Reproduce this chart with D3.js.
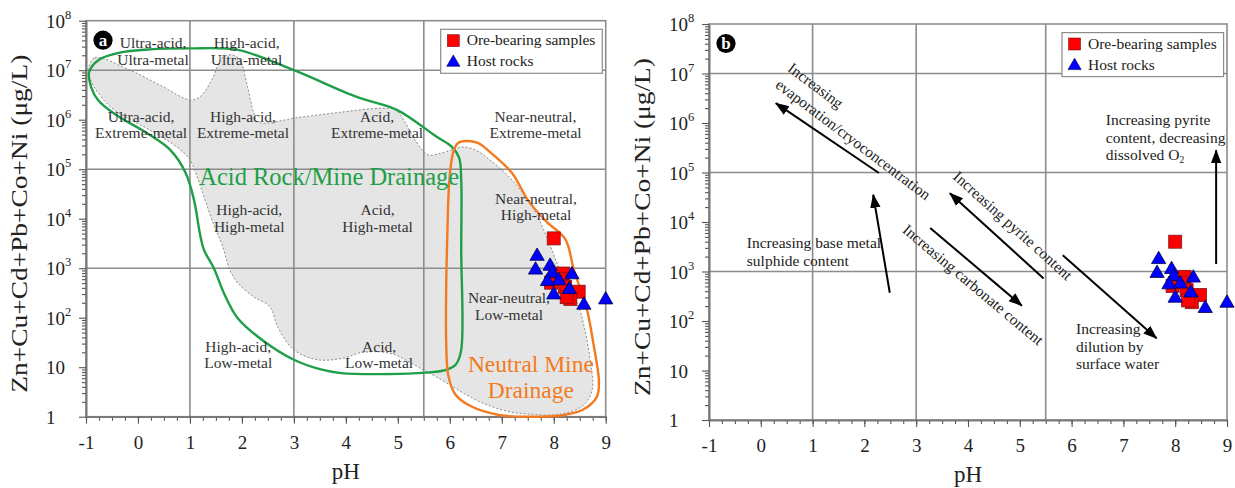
<!DOCTYPE html>
<html>
<head>
<meta charset="utf-8">
<script src="https://cdn.jsdelivr.net/npm/d3@7"></script>
<style>
  html, body { margin: 0; padding: 0; background: #fff; }
  svg { display: block; }
  text { font-family: "Liberation Serif", "Times New Roman", Times, serif; }
</style>
</head>
<body>
<svg id="chart" width="1235" height="488"></svg>
<script>
// ---- data -------------------------------------------------------------
// pH tick labels and minor tick steps
const pHTicks = d3.range(-1, 10);
const pHMinor = d3.range(-1, 9.001, 0.25);
// decade exponents of the metal axis (µg/L)
const decadeExponents = d3.range(0, 9);
// Ficklin class boundaries
const pHBounds = [1, 3, 5.5];
const metalBounds = [1e3, 1e5, 1e7];

// samples: [pH, Zn+Cu+Cd+Pb+Co+Ni in µg/L]
const oreSamples = [
  [8.00, 4000], [8.18, 780], [8.12, 600], [7.95, 510],
  [8.22, 420], [8.48, 335], [8.32, 240], [8.25, 260]
];
const hostRocks = [
  [7.68, 1750], [7.65, 920], [7.93, 1100], [7.97, 790], [8.35, 740],
  [7.88, 540], [8.10, 560], [8.30, 370], [8.00, 290], [8.58, 180], [9.00, 230]
];

// field outlines as [pH, log10(metal)]
const naturalWaterField = [
  [-0.96,7.00],[-0.83,7.25],[-0.15,7.00],[0.42,6.70],[1.00,6.40],[1.19,6.46],
  [1.42,6.80],[1.62,7.25],[1.81,7.31],[1.96,7.21],[2.10,6.70],[2.23,6.13],
  [2.31,5.95],[3.12,6.05],[3.89,6.15],[4.66,6.23],[4.95,6.20],[5.14,5.95],
  [5.33,5.59],[5.58,5.29],[5.81,5.32],[6.04,5.39],[6.24,5.45],[6.49,5.39],
  [6.77,5.19],[7.20,4.78],[7.62,4.18],[7.89,3.57],[8.12,2.96],[8.47,2.25],
  [8.60,1.75],[8.70,1.15],[8.74,0.54],[8.56,0.22],[8.12,0.05],[7.54,0.05],
  [7.06,0.12],[6.50,0.34],[5.75,0.80],[5.43,0.98],[5.14,1.15],[4.95,1.25],
  [4.66,1.31],[4.27,1.29],[3.98,1.19],[3.46,1.15],[3.00,1.35],[2.69,1.81],
  [2.54,2.22],[2.23,2.42],[1.92,2.70],[1.77,2.96],[1.62,3.47],[1.46,3.87],
  [1.29,4.38],[1.16,4.78],[1.00,5.19],[0.77,5.43],[0.23,5.79],[-0.50,6.23],
  [-0.83,6.64],[-0.94,6.88]
];
const acidDrainageField = [
  [-0.94,6.96],[-0.75,7.21],[-0.37,7.35],[0.23,7.42],[1.00,7.44],[1.92,7.41],
  [3.00,7.00],[4.21,6.46],[4.98,6.20],[5.74,5.66],[6.04,5.45],[6.18,5.23],
  [6.22,4.78],[6.22,3.37],[6.22,1.35],[6.12,1.06],[5.91,0.94],[5.37,0.88],
  [3.91,0.88],[3.50,0.96],[3.00,1.15],[2.39,1.55],[1.92,1.99],[1.67,2.46],
  [1.46,3.00],[1.27,3.37],[1.19,3.71],[1.08,4.37],[0.92,4.92],[0.62,5.39],
  [0.14,5.75],[-0.44,6.11],[-0.77,6.40],[-0.90,6.66]
];
const neutralDrainageField = [
  [6.08,5.39],[6.16,5.53],[6.31,5.57],[6.54,5.53],[6.77,5.35],[7.20,4.92],
  [7.50,4.38],[7.85,3.95],[8.22,3.59],[8.39,2.96],[8.64,2.16],[8.76,1.50],
  [8.84,1.00],[8.87,0.70],[8.83,0.40],[8.56,0.14],[8.18,0.03],[7.66,0.00],
  [6.97,0.03],[6.39,0.22],[6.10,0.46],[5.97,0.84],[5.93,1.55],[5.93,2.56],
  [5.95,3.57],[5.98,4.58],[6.02,5.08]
];

// class names: [lines, pH, log10(metal) of first baseline]
const classLabels = [
  [["Ultra-acid,", "Ultra-metal"], 0.29, 7.44],
  [["High-acid,", "Ultra-metal"], 2.09, 7.44],
  [["Ultra-acid,", "Extreme-metal"], 0.06, 5.96],
  [["High-acid,", "Extreme-metal"], 2.02, 5.96],
  [["Acid,", "Extreme-metal"], 4.60, 5.96],
  [["Near-neutral,", "Extreme-metal"], 7.65, 5.96],
  [["High-acid,", "High-metal"], 2.14, 4.07],
  [["Acid,", "High-metal"], 4.61, 4.07],
  [["Near-neutral,", "High-metal"], 7.66, 4.30],
  [["Near-neutral,", "Low-metal"], 7.14, 2.29],
  [["High-acid,", "Low-metal"], 1.93, 1.31],
  [["Acid,", "Low-metal"], 4.64, 1.31]
];

// process arrows: [pH from, log from, pH to, log to]
const processArrows = [
  [2.28, 4.99, 0.29, 6.40],
  [2.49, 2.57, 2.17, 4.55],
  [3.27, 3.88, 5.04, 2.31],
  [5.46, 2.86, 3.65, 4.58],
  [5.83, 3.33, 7.64, 1.65],
  [8.79, 3.15, 8.79, 5.45]
];
// slanted process notes: [lines, pH, log10 of first line start, angle]
const slantedNotes = [
  [["Increasing", "evaporation/cryoconcentration"], 0.57, 7.16, 37],
  [["Increasing carbonate content"], 2.79, 3.90, 40],
  [["Increasing pyrite content"], 3.77, 4.98, 42]
];
// level notes: [lines, pH, log10 of first baseline]
const levelNotes = [
  [["Increasing base metal", "sulphide content"], -0.27, 3.47],
  [["Increasing", "dilution by", "surface water"], 6.085, 1.73],
  [["Increasing pyrite", "content, decreasing", "dissolved O"], 6.66, 5.95]
];

const legendItems = ["Ore-bearing samples", "Host rocks"];

// ---- layout -------------------------------------------------------------
const panels = [
  { letter: "a", left: 86, right: 605.7, top: 20.7, bottom: 416.7, fields: true },
  { letter: "b", left: 709, right: 1227, top: 24, bottom: 420, fields: false }
];

const svg = d3.select("#chart");
const defs = svg.append("defs");
defs.append("marker")
  .attr("id", "head")
  .attr("markerUnits", "userSpaceOnUse")
  .attr("viewBox", "0 -6 14 12")
  .attr("refX", 13).attr("refY", 0)
  .attr("markerWidth", 14).attr("markerHeight", 12)
  .attr("orient", "auto")
  .append("path").attr("d", "M0,-5.2L14,0L0,5.2Z").attr("fill", "#000");

const GRID = "#8c8c8c";

panels.forEach(p => {
  const g = svg.append("g");
  const x = d3.scaleLinear().domain([-1, 9]).range([p.left, p.right]);
  const y = d3.scaleLog().domain([1, 1e8]).range([p.bottom, p.top]);
  const ly = e => y(Math.pow(10, e));
  const outline = d3.line().x(d => x(d[0])).y(d => ly(d[1]))
    .curve(d3.curveCatmullRomClosed.alpha(0.5));

  if (p.fields) {
    g.append("path").attr("d", outline(naturalWaterField))
      .attr("fill", "#e5e5e5").attr("stroke", "none");
  }

  // class boundaries
  g.selectAll(".vb").data(pHBounds).join("line")
    .attr("x1", d => x(d)).attr("x2", d => x(d))
    .attr("y1", p.top).attr("y2", p.bottom)
    .attr("stroke", GRID).attr("stroke-width", 1.6);
  g.selectAll(".hb").data(metalBounds).join("line")
    .attr("x1", p.left).attr("x2", p.right)
    .attr("y1", d => y(d)).attr("y2", d => y(d))
    .attr("stroke", GRID).attr("stroke-width", 1.6);

  g.append("rect")
    .attr("x", p.left).attr("y", p.top)
    .attr("width", p.right - p.left).attr("height", p.bottom - p.top)
    .attr("fill", "none").attr("stroke", GRID).attr("stroke-width", 1.6);

  // axes
  const styleAxis = sel => {
    sel.select(".domain").attr("stroke", "#777").attr("stroke-width", 1.6);
    sel.selectAll(".tick line").attr("stroke", "#555").attr("stroke-width", 1.1);
  };
  g.append("g").attr("transform", `translate(0,${p.bottom})`)
    .call(d3.axisBottom(x).tickValues(pHMinor).tickSize(4).tickSizeOuter(0).tickFormat(""))
    .call(styleAxis);
  const xa = g.append("g").attr("transform", `translate(0,${p.bottom})`)
    .call(d3.axisBottom(x).tickValues(pHTicks).tickSize(7).tickPadding(11.5)
      .tickSizeOuter(0).tickFormat(d => String(d)))
    .call(styleAxis);
  xa.selectAll(".tick text")
    .attr("font-size", 19).attr("fill", "#222")
    .attr("font-family", "'Liberation Serif', 'Times New Roman', serif");

  const minorMetal = [];
  decadeExponents.slice(0, -1).forEach(e => {
    for (let k = 2; k <= 9; k++) minorMetal.push(k * Math.pow(10, e));
  });
  g.append("g").attr("transform", `translate(${p.left},0)`)
    .call(d3.axisLeft(y).tickValues(minorMetal).tickSize(4).tickSizeOuter(0).tickFormat(""))
    .call(styleAxis);
  g.append("g").attr("transform", `translate(${p.left},0)`)
    .call(d3.axisLeft(y).tickValues(decadeExponents.map(e => Math.pow(10, e)))
      .tickSize(7).tickSizeOuter(0).tickFormat(""))
    .call(styleAxis);

  const yl = g.selectAll(".ylab").data(decadeExponents).join("text")
    .attr("x", p.left - 40).attr("y", e => ly(e) + 7)
    .attr("font-size", 19).attr("fill", "#222");
  yl.each(function (e) {
    const t = d3.select(this);
    if (e === 0) { t.text("1"); return; }
    t.append("tspan").text("10");
    if (e > 1) t.append("tspan").attr("font-size", 12.5).attr("dy", -9).text(e);
  });

  // axis titles
  g.append("text")
    .attr("x", (p.left + p.right) / 2).attr("y", p.bottom + 62)
    .attr("text-anchor", "middle").attr("font-size", 23).attr("fill", "#222")
    .text("pH");
  g.append("text")
    .attr("transform", `translate(${p.left - 59},${(p.top + p.bottom) / 2 + 5}) rotate(-90)`)
    .attr("text-anchor", "middle").attr("font-size", 24).attr("fill", "#222")
    .attr("textLength", 338).attr("lengthAdjust", "spacingAndGlyphs")
    .text("Zn+Cu+Cd+Pb+Co+Ni (μg/L)");

  if (p.fields) {
    g.append("path").attr("d", outline(naturalWaterField))
      .attr("fill", "none").attr("stroke", "#8a8a8a")
      .attr("stroke-width", 1).attr("stroke-dasharray", "2,2");
    g.append("path").attr("d", outline(acidDrainageField))
      .attr("fill", "none").attr("stroke", "#1f9e48").attr("stroke-width", 2.4);
    g.append("path").attr("d", outline(neutralDrainageField))
      .attr("fill", "none").attr("stroke", "#f47a20").attr("stroke-width", 2.4);

    classLabels.forEach(([lines, ph, e]) => {
      const t = g.append("text").attr("text-anchor", "middle")
        .attr("font-size", 15.5).attr("fill", "#333");
      lines.forEach((s, i) => t.append("tspan")
        .attr("x", x(ph)).attr("y", ly(e) + i * 16.5).text(s));
    });

    g.append("text").attr("x", x(3.68)).attr("y", ly(4.68))
      .attr("text-anchor", "middle").attr("font-size", 24.5).attr("fill", "#1f9e48")
      .text("Acid Rock/Mine Drainage");
    const nmd = g.append("text").attr("text-anchor", "middle")
      .attr("font-size", 23.5).attr("fill", "#f47a20");
    ["Neutral Mine", "Drainage"].forEach((s, i) => nmd.append("tspan")
      .attr("x", x(7.56)).attr("y", ly(0.91) + i * 26.3).text(s));
  } else {
    g.selectAll(".arrow").data(processArrows).join("line")
      .attr("x1", d => x(d[0])).attr("y1", d => ly(d[1]))
      .attr("x2", d => x(d[2])).attr("y2", d => ly(d[3]))
      .attr("stroke", "#000").attr("stroke-width", 2)
      .attr("marker-end", "url(#head)");

    slantedNotes.forEach(([lines, ph, e, ang]) => {
      const t = g.append("text")
        .attr("transform", `translate(${x(ph)},${ly(e)}) rotate(${ang})`)
        .attr("font-size", 15.5).attr("fill", "#222")
        .attr("dominant-baseline", "central");
      lines.forEach((s, i) => t.append("tspan").attr("x", 0).attr("y", i * 20.5).text(s));
    });
    levelNotes.forEach(([lines, ph, e], n) => {
      const t = g.append("text").attr("font-size", 15.5).attr("fill", "#222");
      lines.forEach((s, i) => {
        t.append("tspan").attr("x", x(ph)).attr("y", ly(e) + i * 17.4).text(s);
        if (n === 2 && i === 2) {
          t.append("tspan").attr("font-size", 9.5).attr("dy", 3).text("2");
        }
      });
    });
  }

  // samples
  g.selectAll(".ore").data(oreSamples).join("rect")
    .attr("x", d => x(d[0]) - 6.5).attr("y", d => y(d[1]) - 6.5)
    .attr("width", 13).attr("height", 13)
    .attr("fill", "#ff0000").attr("stroke", "#7a1a1a").attr("stroke-width", 0.8);
  g.selectAll(".host").data(hostRocks).join("path")
    .attr("transform", d => `translate(${x(d[0])},${y(d[1])})`)
    .attr("d", d3.symbol(d3.symbolTriangle, 88))
    .attr("fill", "#0000ff").attr("stroke", "#00004d").attr("stroke-width", 0.8);

  // legend
  const lg = g.append("g").attr("transform", `translate(${p.right - 165},${p.top + 8.6})`);
  lg.append("rect").attr("width", 161.6).attr("height", 44)
    .attr("fill", "#fff").attr("stroke", "#8c8c8c").attr("stroke-width", 1.2);
  lg.append("rect").attr("x", 6.6).attr("y", 5.4).attr("width", 12).attr("height", 12)
    .attr("fill", "#ff0000").attr("stroke", "#7a1a1a").attr("stroke-width", 0.6);
  lg.append("path").attr("transform", "translate(12.6,33.2)")
    .attr("d", d3.symbol(d3.symbolTriangle, 75))
    .attr("fill", "#0000ff").attr("stroke", "#00004d").attr("stroke-width", 0.6);
  lg.selectAll(".li").data(legendItems).join("text")
    .attr("x", 26).attr("y", (d, i) => 16 + i * 21)
    .attr("font-size", 15.5).attr("fill", "#222").text(d => d);

  // panel letter
  const badge = g.append("g").attr("transform", `translate(${p.left + 17},${p.top + 19.5})`);
  badge.append("circle").attr("r", 9.6).attr("fill", "#000");
  badge.append("text").attr("text-anchor", "middle").attr("y", 5.5)
    .attr("font-size", 17).attr("font-weight", "bold").attr("fill", "#fff")
    .text(p.letter);
});
</script>
</body>
</html>
